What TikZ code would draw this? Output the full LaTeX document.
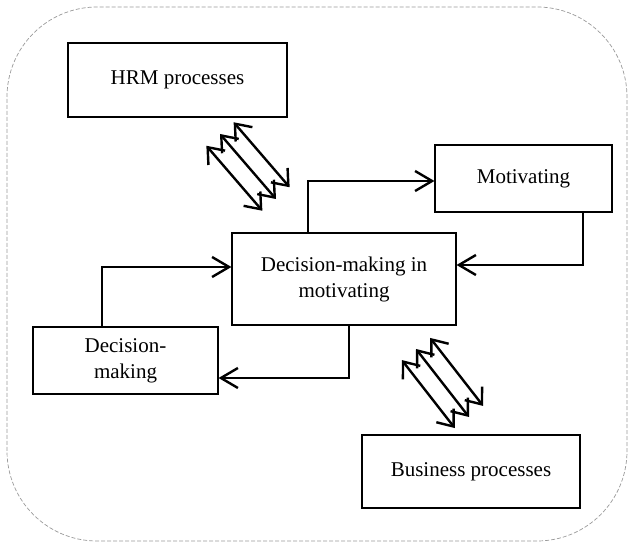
\documentclass[tikz,border=0pt]{standalone}
\usepackage{fontspec}
\setmainfont{Liberation Serif}
\usetikzlibrary{arrows.meta}
\usetikzlibrary{calc}
\newcommand{\drawTripleArrow}[2]{
	\foreach \off in {-18,0,18}{
		\draw[{Straight Barb[length=14pt,width=22pt]}-{Straight Barb[length=14pt,width=22pt]}, line width=2.4pt]
			($(#1)!\off pt!90:(#2)$) -- ($(#2)!\off pt!-90:(#1)$);
	}
}
\newcommand{\drawBlock}[5]{
	\node[block, minimum width=#3, minimum height=#4] (#1) at (#2) {#5};
}

\begin{document}
\begin{tikzpicture}[x=1pt, y=1pt,
		block/.style={draw, line width=1.1pt, fill=white, align=center, inner sep=0pt,
			font=\fontsize{21}{26}\selectfont},
		link/.style={-{Straight Barb[length=17pt,width=20pt]}, line width=2.4pt}]
		\useasboundingbox (0,0) rectangle (630,544);
		\draw[gray!80, dash pattern=on 4pt off 2pt, line width=0.7pt, rounded corners=90pt]
			(7,3) rectangle (627,537);

		\coordinate (HRM_C) at (177.5,464);
		\coordinate (MOT_C) at (523.5,365.5);
		\coordinate (DMM_C) at (344,265);
		\coordinate (DM_C) at (125.5,183.5);
		\coordinate (BUS_C) at (471,72.5);
		\coordinate (HRM_T) at (220,410);
		\coordinate (HRM_B) at (276,345);
		\coordinate (BUS_T) at (416,195);
		\coordinate (BUS_B) at (469,127);

		\drawBlock{hrm}{HRM_C}{219pt}{74pt}{HRM processes}
		\drawBlock{mot}{MOT_C}{177pt}{67pt}{Motivating}
		\drawBlock{dmm}{DMM_C}{224pt}{92pt}{Decision-making in\\motivating}
		\drawBlock{dm}{DM_C}{185pt}{67pt}{Decision-\\making}
		\drawBlock{bus}{BUS_C}{218pt}{73pt}{Business processes}

		\draw[link] ([xshift=-23.5pt]dm.north) |- ([yshift=12pt]dmm.west);
		\draw[link] ([xshift=-36pt]dmm.north) |- ([yshift=-2.5pt]mot.west);
		\draw[link] ([xshift=59.5pt]mot.south) |- ([yshift=14pt]dmm.east);
		\draw[link] ([xshift=5pt]dmm.south) |- ([yshift=-17.5pt]dm.east);

		\drawTripleArrow{HRM_T}{HRM_B}
		\drawTripleArrow{BUS_T}{BUS_B}
	\end{tikzpicture}
\end{document}
